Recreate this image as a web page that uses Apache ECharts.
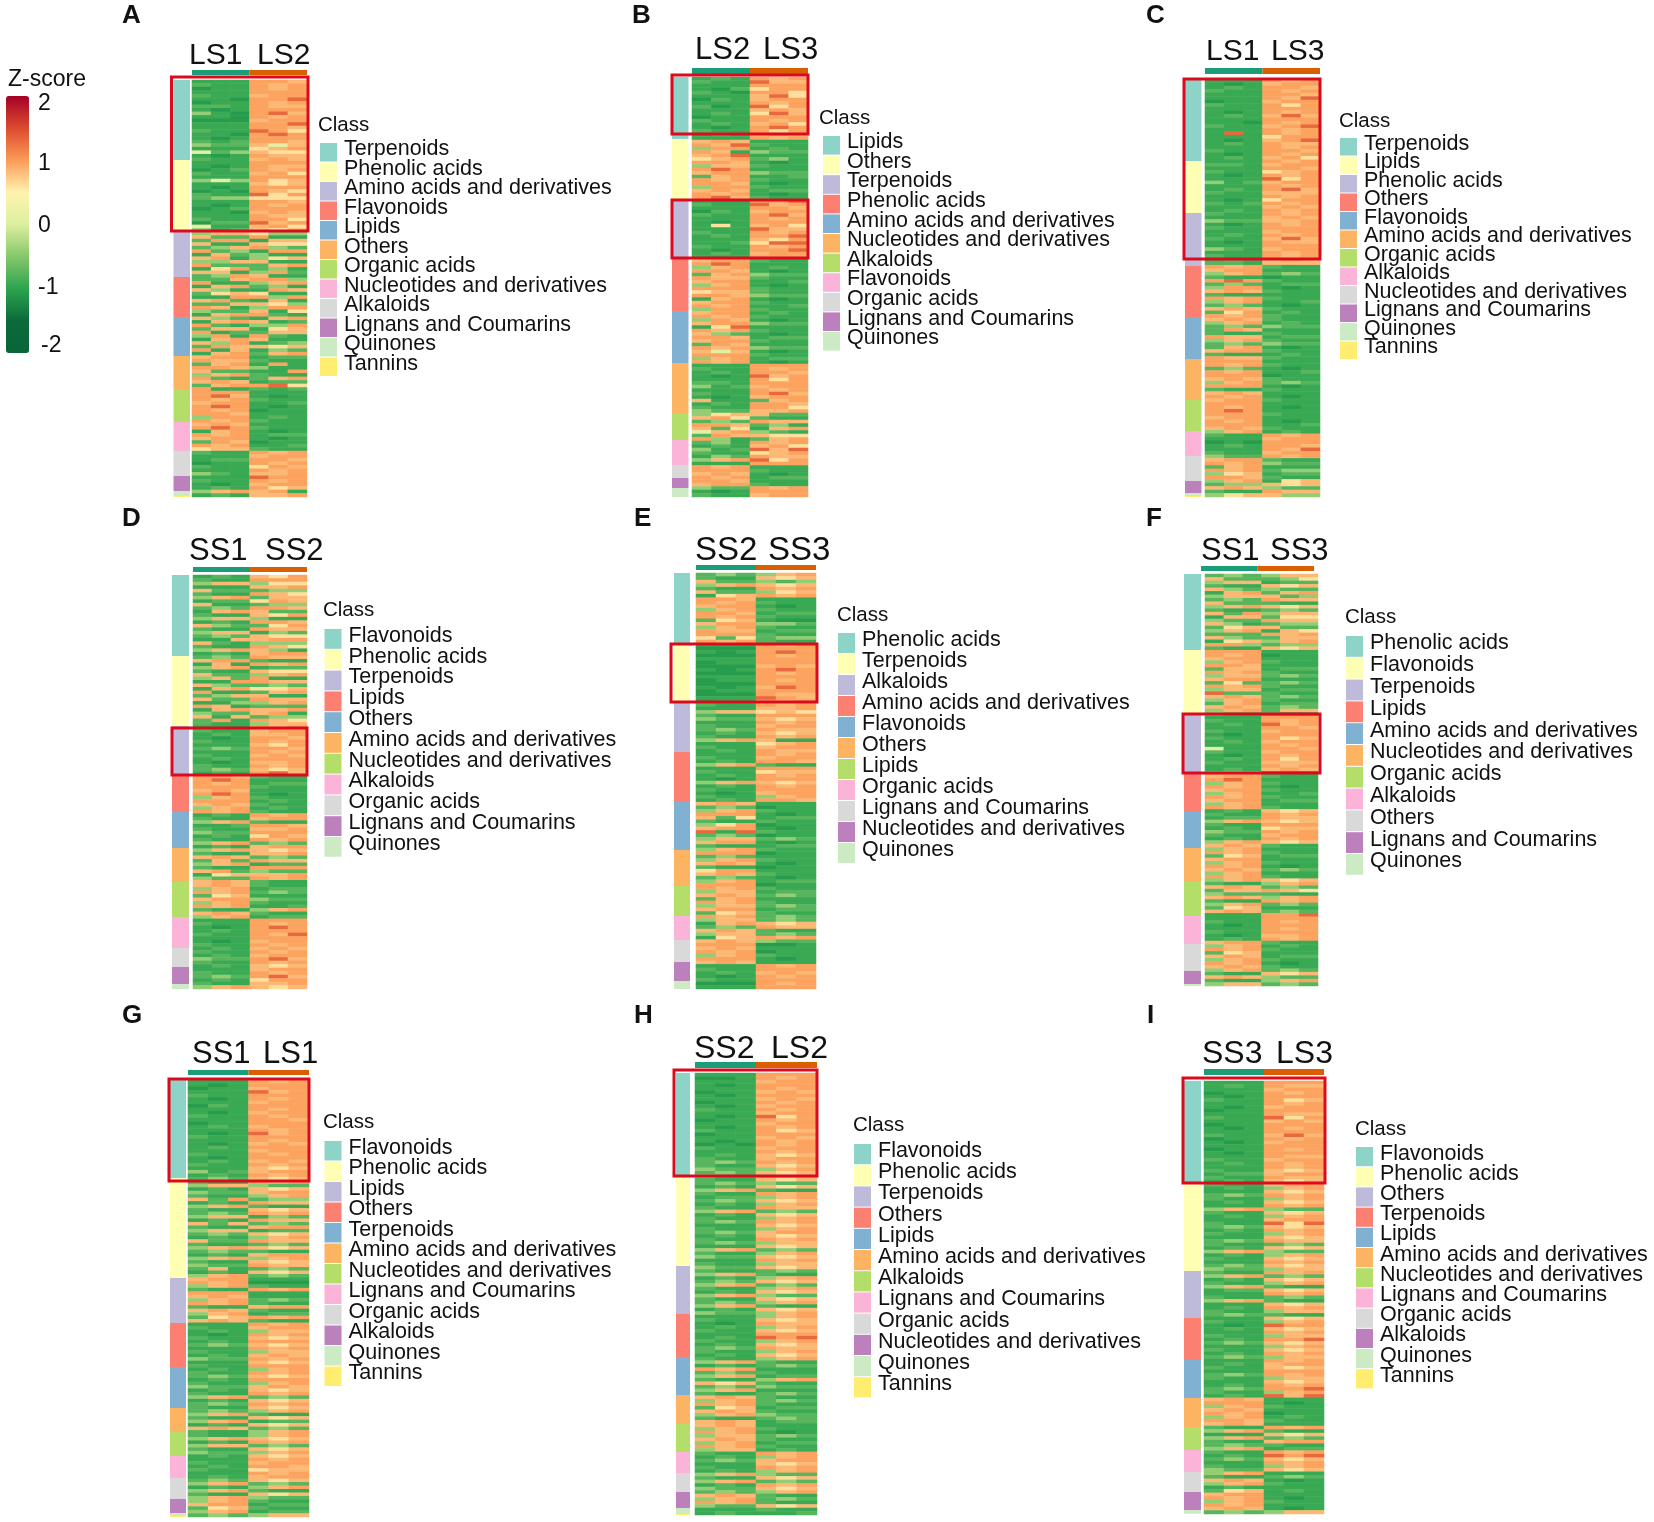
<!DOCTYPE html>
<html>
<head>
<meta charset="utf-8">
<script src="https://cdn.jsdelivr.net/npm/echarts@6/dist/echarts.min.js"></script>
<style>
html,body{margin:0;padding:0;background:#fff;}
#main{width:1654px;height:1522px;}
</style>
</head>
<body>
<div id="main"></div>
<script>
// each row = six samples, digit is an index into levelValues
var levelValues = [-1.45,-1.12,-0.97,-0.8,-0.45,0.1,0.62,0.85,0.98,1.35];
var colorbarTicks = [-2,-1,0,1,2];
var classColors = ['#8DD3C7','#FFFFB3','#BEBADA','#FB8072','#80B1D3','#FDB462','#B3DE69','#FBB4D8','#D9D9D9','#BC80BD','#CCEBC5','#FFED6F'];
var groupColors = ['#1b9e77','#d95f02'];

var labelsA = ['LS1','LS2'];
var classesA = ['Terpenoids','Phenolic acids','Amino acids and derivatives','Flavonoids','Lipids','Others','Organic acids','Nucleotides and derivatives','Alkaloids','Lignans and Coumarins','Quinones','Tannins'];
var countsA = [80,70,47,40,39,34,32,29,25,15,5,1];
var rowsA = `222887 322878 122878 222888 322788 221889 122878 332877 212888 421897 221878 111788 222889 222887 322986 221898 212888 323887 433757 222678 534766 212877 322787
222888 212877 123878 322786 222888 454867 222767 212888 121876 322968 344666 222887 212878 123888 221787 222877 322886 133978 522786 423767
477644 733822 388277 722766 347843 834288 273422 782467 447722 833378 268342 772483 348722
337884 822478 278342 742287 367622 228848 783272 337764 872488 433726 278832
743278 278723 832448 377267 823377 482832 278722 748234 387767 827243 278378
788233 877322 378282 887422 733228 478322 832378 787233 378896 822323
888222 897212 878322 788223 898212 878122 887222 488232 878322
787222 898322 278212 878233 788212 387122 878223 677322
322878 222788 233887 122878 322687 222878 432778
222988 322878 212788 232867
478782 232778`;

var labelsB = ['LS2','LS3'];
var classesB = ['Lipids','Others','Terpenoids','Phenolic acids','Amino acids and derivatives','Nucleotides and derivatives','Alkaloids','Flavonoids','Organic acids','Lignans and Coumarins','Quinones'];
var countsB = [62,60,59,53,52,50,27,25,13,10,9];
var rowsB = `232878 322977 222888 213688 321886 222796 132788 222878 312968 222787 232697 122888 322878 232786 212898 322868 232787 222878
787222 879322 488232 872433 789222 678342 887212 477322 898222 788433 378223 878322 887212 488322 787233 878212 897322
222889 322978 222887 132788 322897 222878 212888 262786 222977 322878 232889 222768 223699 322878 212889 232788 222888
788322 898222 478232 887212 378433 877322 788223 478212 888322 677322 887433 278212 788322 878223 488322
788232 878322 487212 788433 269222 878322 743212 887233 788322 387222 878433 757212 888322 478233 878212
222888 322878 232887 212978 222868 332888 423788 222878 322897 212788 722378 232887 322886 433778
467733 786322 343877 887342 736278 578432 387766 842378
342878 232786 423979 322678 243877 478968 222888
878222 888322 787212 878233
887222 788322 433878
212888 322788`;

var labelsC = ['LS1','LS3'];
var classesC = ['Terpenoids','Lipids','Phenolic acids','Others','Flavonoids','Amino acids and derivatives','Organic acids','Alkaloids','Nucleotides and derivatives','Lignans and Coumarins','Quinones','Tannins'];
var countsC = [82,52,53,51,42,41,31,25,25,12,3,1];
var rowsC = `222878 212788 232887 322878 222887 222879 122788 322868 222888 212878 232797 222888 221878 322789 222878 292878 222688 212789 232877 222878 322887 212878 232786
222878 332788 222887 322678 212878 222968 423788 222878 232897 322777 222878 212688 323878 222787 232878
322878 222787 433778 212878 322888 222788 232878 322797 212877 222888 432788 222878 322878 232787 332777
878322 788222 478343 322122 898322 343233 488212 787322 322222 878322 478223 343212 787322 368232 878322
787322 478232 343433 387222 322322 877233 478322 343433 378212 788322 322232 877322
888222 878322 343212 878223 888122 787322 478343 888212 322322 787222 878212 788322
888222 878212 898222 888322 788222 878212 888223 787322 478232
322878 222788 121888 232887 222879 322788 433878
788322 878433 378222 878344 467233 887322 478267
344767 787433 322877
467744`;

var labelsD = ['SS1','SS2'];
var classesD = ['Flavonoids','Phenolic acids','Terpenoids','Lipids','Others','Amino acids and derivatives','Nucleotides and derivatives','Alkaloids','Organic acids','Lignans and Coumarins','Quinones'];
var countsD = [81,70,49,37,36,34,35,31,19,17,5];
var rowsD = `232768 322888 477466 222778 733344 322876 478377 233687 722344 343887 278733 322768 477422 232887 743368 322877 477243 343766 227788 732444 322876 478742 232788
343877 788322 272878 478233 322766 733478 473822 228877 743343 278667 822378 347722 733877 224478 872333 278778 433782 727344 382876 322477
222878 322788 232778 212887 322878 222768 343887 222878 322787 232888 212778 322878 343767 232897
887322 898222 878233 888322 787222 898212 478322 888232 787322 478232 878322
232878 322788 478322 223887 322778 433888 232687 322878 478343 232788
478767 322778 787343 373877 478233 322888 783433 267778 433878 787322
787322 478233 878343 367222 788433 478322 878223 322478 787322 478233
222888 322878 212898 232888 322879 222888 212788 322878 232787
322878 232788 433897 322878 232767
222788 322878 343897 232688 322778
478767`;

var labelsE = ['SS2','SS3'];
var classesE = ['Phenolic acids','Terpenoids','Alkaloids','Amino acids and derivatives','Flavonoids','Others','Lipids','Organic acids','Lignans and Coumarins','Nucleotides and derivatives','Quinones'];
var countsE = [70,59,50,50,48,36,30,24,22,19,8];
var rowsE = `343478 322767 733434 478767 322878 733467 267878 887222 878322 788212 478322 887233 878322 367211 788443 478322 877233 888322 636344 878322
222878 111888 212898 111878 222888 122888 111787 212898 111878 222888 122878 111888 212798 122888 111877 222987 122878
322878 222778 477676 322888 433767 222878 322788 343877 232767 322878 478722 222678 322788 232877
222878 322788 232887 478322 222888 322677 232878 212888 478767 232878 322888 212788 322478 232887
787222 343122 478322 888212 736233 322322 468122 788212 929322 343122 477343 788212 322233 478322
888122 343222 478322 787212 322122 688222 787322 343212 478233 888122
878322 477233 787343 378222 878322 477343 788233 367322 878343
477343 278767 343877 787322 477343 267878 787433
888112 787222 878122 478322 888212 787222
222878 322888 232787 212878 322888
111878 222888`;

var labelsF = ['SS1','SS3'];
var classesF = ['Phenolic acids','Flavonoids','Terpenoids','Lipids','Amino acids and derivatives','Nucleotides and derivatives','Organic acids','Alkaloids','Others','Lignans and Coumarins','Quinones'];
var countsF = [76,65,57,40,36,34,34,28,27,13,2];
var rowsF = `343477 733346 477233 322767 743433 278378 477734 343877 733322 478767 322343 738477 277366 433877 742344 367733 478276 333878 743377 267478 884344 322767
888222 878122 788222 478322 887222 377233 878322 477343 788222 363343 878322 477233 933322 787343 478322 378233 787343 478377 433322
222888 322878 232978 222887 322788 212888 322867 232788 222878 522887 322788 212878 232868 322777 222878 232787
878222 788322 898222 478322 878212 788322 478223 878322 788233 478222 878322
232767 322878 233877 478767 322888 232677 433878 322788 232878 478767
787322 478222 878322 367233 788222 478322 878212 787343 478222 878322
478767 322478 787343 377876 433322 787478 322878 478343 367222 787343
222889 222888 322878 212888 222878 322888 212778 232878
788322 478232 878322 367222 787233 478322 878212 787322
478343 322767 787433 322478
477343`;

var labelsG = ['SS1','LS1'];
var classesG = ['Flavonoids','Phenolic acids','Lipids','Others','Terpenoids','Amino acids and derivatives','Nucleotides and derivatives','Lignans and Coumarins','Organic acids','Alkaloids','Quinones','Tannins'];
var countsG = [98,100,45,44,41,24,24,22,21,14,3,1];
var rowsG = `222878 212888 122788 222978 322888 212878 222788 132888 222878 212788 322878 222887 122888 232788 222878 212978 322888 222878 212787 232888 222788 322878 212888 232787 322878 222767 423788 232878
343767 322878 477433 232767 433788 322478 738344 232877 478322 322767 343878 477243 232877 737343 322788 477233 343767 232478 733877 322343 478767 343322 232788 478478 322767 433877 372343 232767 478343
788222 878111 478322 322878 888222 787222 478343 878322 322788 787322 478233 367878 787322
222878 322788 232477 212878 322767 232888 343767 222878 322477 232787 433878 222767 322888
232478 322878 343767 232888 322478 433787 232767 322878 478343 232767 343878 322767
343478 478322 322767 478233 232767 787343 322478
322478 478767 232878 477343 322767 433478 232767
222878 322788 232887 322677 222878 232788
343767 478343 232478 478322 322767 478433
478322 788233 367322 478233
343477`;

var labelsH = ['SS2','LS2'];
var classesH = ['Flavonoids','Phenolic acids','Terpenoids','Others','Lipids','Amino acids and derivatives','Alkaloids','Lignans and Coumarins','Organic acids','Nucleotides and derivatives','Quinones','Tannins'];
var countsH = [102,91,48,43,38,29,28,21,19,16,6,1];
var rowsH = `222888 112878 222788 212888 222878 122787 212888 222787 122878 212788 322878 222788 212968 122878 222788 212878 322867 122888 222787 212878 121878 322788 222878 232767 322788 343878 322767 433478 343767
433478 322767 343433 232767 478322 322878 233478 343767 232478 322877 478343 232767 322478 343878 222767 322478 343788 232767 322878 343477 222767 478343 322478 433767 222878 322477
433767 322343 478322 232478 343767 478343 322478 232767 478433 322767 343478 478322 232767 433478
222478 322767 212877 232478 322767 222888 232989 322478 232767 343877 322478 232767
322478 478322 232343 878222 343322 478233 322478 767322 343433 478222 322343
787322 478343 878322 367233 787322 478433 322343 787233
787222 478322 878212 477343 787322 478233 878322 477232
322878 232478 343788 222767 322878 232478
478433 322767 478343 232878 433767
343478 787322 478343 878322 433767
222322 232223`;

var labelsI = ['SS3','LS3'];
var classesI = ['Flavonoids','Phenolic acids','Others','Terpenoids','Lipids','Amino acids and derivatives','Nucleotides and derivatives','Lignans and Coumarins','Organic acids','Alkaloids','Quinones','Tannins'];
var countsI = [102,88,47,42,38,29,23,22,20,18,3,1];
var rowsI = `222888 232877 222788 122878 212888 322867 222878 212788 122888 222877 322968 222787 122888 212878 222888 322797 122878 212788 222888 122878 212888 222877 322788 232878 222878 322767 233788 322877 232767
322788 232478 222767 343878 322478 232767 222878 478433 322767 232478 222788 322969 343767 232878 322478 222767 343877 322343 232767 478433 232478 322767 222878 343767 433477
322878 478343 232767 322478 478322 233767 222878 322343 478322 222767 232878 322477 343322
222767 322478 212988 232767 222878 322477 232889 343767 222478 322767 232878 343477
222878 232788 322767 222888 343878 322477 222767 232878 343889 322478 232979
787222 888212 478322 787222 878122 478232 887322 787222
322878 478322 222767 478343 322788 343322 478233
322878 232989 343767 222878 322478 433767
478222 322343 787212 478322 232222 367232
788222 878212 478322 878222 787212
343477`;

// pixel layout of the nine panels
var layout = [
 {letter:'A',at:[122,16],size:30,lab:[[189,56],[257,56]],heat:[192,307,80,497],anno:[173.5,190],strip:[192,307,70,75],boxes:[[171.5,308,77,231]],cls:[318,125],leg:[320,143,19.5],labels:labelsA,classes:classesA,counts:countsA,rows:rowsA},
 {letter:'B',at:[632,16],size:31,lab:[[695,50],[763,50]],heat:[692,808,77,497],anno:[672,688.5],strip:[692,808,68,74],boxes:[[672,808,75,134],[672,808,200,258]],cls:[819,118],leg:[823,136,19.6],labels:labelsB,classes:classesB,counts:countsB,rows:rowsB},
 {letter:'C',at:[1146,16],size:30,lab:[[1206,52],[1271,52]],heat:[1205,1320,79,497],anno:[1185,1201.5],strip:[1205,1320,68,74],boxes:[[1184,1320,79,259]],cls:[1339,121],leg:[1340,138,18.5],labels:labelsC,classes:classesC,counts:countsC,rows:rowsC},
 {letter:'D',at:[122,519],size:31,lab:[[189,551],[265,551]],heat:[193,307,575,989],anno:[172,189],strip:[193,307,567,572],boxes:[[172,307,728,775]],cls:[323,610],leg:[324.5,629,20.8],labels:labelsD,classes:classesD,counts:countsD,rows:rowsD},
 {letter:'E',at:[634,519],size:33,lab:[[695,551],[768,551]],heat:[696,816,573,989],anno:[674,690],strip:[696,816,565,570],boxes:[[671,817,644,702]],cls:[837,615],leg:[838,633,21],labels:labelsE,classes:classesE,counts:countsE,rows:rowsE},
 {letter:'F',at:[1146,519],size:31,lab:[[1201,551],[1270,551]],heat:[1205,1318,574,986],anno:[1184,1201],strip:[1201,1314,566,571],boxes:[[1183,1320,714,773]],cls:[1345,617],leg:[1346,636,21.8],labels:labelsF,classes:classesF,counts:countsF,rows:rowsF},
 {letter:'G',at:[122,1016],size:31,lab:[[192,1054],[263,1054]],heat:[188,309,1080,1517],anno:[170,186],strip:[188,309,1070,1075],boxes:[[169,309,1079,1181]],cls:[323,1122],leg:[324.5,1141,20.5],labels:labelsG,classes:classesG,counts:countsG,rows:rowsG},
 {letter:'H',at:[634,1016],size:32,lab:[[694,1049],[771,1049]],heat:[695,817,1073,1515],anno:[676,690],strip:[695,817,1062,1068],boxes:[[674,817,1070,1176]],cls:[853,1125],leg:[854,1144,21.2],labels:labelsH,classes:classesH,counts:countsH,rows:rowsH},
 {letter:'I',at:[1147,1016],size:32,lab:[[1202,1054],[1276,1054]],heat:[1204,1324,1081,1514],anno:[1184,1201],strip:[1204,1324,1069,1075],boxes:[[1183,1325,1078,1183]],cls:[1355,1129],leg:[1356,1147,20.2],labels:labelsI,classes:classesI,counts:countsI,rows:rowsI}
];

var FONT = '"Liberation Sans", Arial, sans-serif';
var LEGEND_ROW = 28; // height the legend gives a rich text row
var option = {
 animation:false, backgroundColor:'#fff',
 title:[], grid:[], xAxis:[], yAxis:[], series:[], legend:[], graphic:[],
 visualMap:{
  type:'continuous', min:-2.08, max:2.06, calculable:false, hoverLink:false, seriesIndex:[],
  left:6, top:96, itemWidth:23, itemHeight:257, padding:0, text:null,
  inRange:{color:['#0a6538','#0b6a3a','#2ca44f','#86c76c','#dcef9f','#fff3b0','#fb9b57','#dc4b2e','#a50026']}
 }
};

function addTitle(text,x,cy,size,bold){
 option.title.push({text:text,left:x,top:cy-size/2,padding:0,
  textStyle:{fontFamily:FONT,fontSize:size,lineHeight:size,color:'#111',fontWeight:bold?'bold':'normal'}});
}
function addGrid(x0,x1,y0,y1,xAxis,yAxis){
 var i = option.grid.length;
 option.grid.push({left:x0,top:y0,width:x1-x0,height:y1-y0,containLabel:false});
 xAxis.gridIndex = i; yAxis.gridIndex = i;
 option.xAxis.push(xAxis); option.yAxis.push(yAxis);
 return i;
}

addTitle('Z-score',8,80,23,false);

layout.forEach(function(p){
 addTitle(p.letter,p.at[0],p.at[1],26,true);
 addTitle(p.labels[0],p.lab[0][0],p.lab[0][1],p.size,false);
 addTitle(p.labels[1],p.lab[1][0],p.lab[1][1],p.size,false);
 addTitle('Class',p.cls[0],p.cls[1],20.5,false);

 // heat map cells
 var rows = p.rows.trim().split(/\s+/);
 var cells = [];
 rows.forEach(function(r,ri){
  for(var c=0;c<6;c++){ cells.push([c,ri,levelValues[+r[c]]]); }
 });
 var hg = addGrid(p.heat[0],p.heat[1],p.heat[2],p.heat[3],
  {type:'category',show:false,data:[0,1,2,3,4,5]},
  {type:'category',show:false,inverse:true,data:rows.map(function(r,i){return i;})});
 option.visualMap.seriesIndex.push(option.series.length);
 option.series.push({type:'heatmap',xAxisIndex:hg,yAxisIndex:hg,data:cells,progressive:0,silent:true});

 // group strip on top
 var sg = addGrid(p.strip[0],p.strip[1],p.strip[2],p.strip[3],
  {type:'category',show:false,data:p.labels},
  {type:'value',show:false,min:0,max:1});
 option.series.push({type:'bar',xAxisIndex:sg,yAxisIndex:sg,barWidth:'100%',silent:true,
  data:[{value:1,itemStyle:{color:groupColors[0]}},{value:1,itemStyle:{color:groupColors[1]}}]});

 // class annotation column
 var total = p.counts.reduce(function(a,b){return a+b;},0);
 var ag = addGrid(p.anno[0],p.anno[1],p.heat[2],p.heat[3],
  {type:'category',show:false,data:['Class']},
  {type:'value',show:false,inverse:true,min:0,max:total});
 p.classes.forEach(function(name,i){
  option.series.push({type:'bar',name:name,xAxisIndex:ag,yAxisIndex:ag,stack:'c'+p.letter,barWidth:'100%',silent:true,
   itemStyle:{color:classColors[i]},data:[p.counts[i]]});
 });

 var itemH = p.leg[2]-1;
 option.legend.push({
  left:p.leg[0],top:p.leg[1]-(LEGEND_ROW-itemH)/2,orient:'vertical',padding:0,
  itemGap:p.leg[2]-LEGEND_ROW,itemWidth:17,itemHeight:itemH,
  selectedMode:false,icon:'rect',formatter:'{t|{name}}',
  textStyle:{rich:{t:{fontFamily:FONT,fontSize:21.5,lineHeight:11,color:'#111',padding:[0,0,6,2]}}},
  data:p.classes.map(function(name,i){return {name:name,icon:'rect',itemStyle:{color:classColors[i]}};})
 });

 p.boxes.forEach(function(b){
  option.graphic.push({type:'rect',z:100,silent:true,
   shape:{x:b[0],y:b[2],width:b[1]-b[0],height:b[3]-b[2]},
   style:{fill:'none',stroke:'#dc0a1e',lineWidth:3}});
 });
});

// colour bar ticks and labels over the visualMap bar
var tickRich = {fontFamily:FONT,fontSize:23,color:'#111'};
addGrid(6,29,96,353,
 {type:'value',show:false,min:0,max:1},
 {type:'value',position:'right',min:-2.08,max:2.06,z:10,splitLine:{show:false},axisLine:{show:false},
  axisTick:{show:true,inside:true,length:6,customValues:colorbarTicks,lineStyle:{color:'#fff',width:2}},
  axisLabel:{show:true,customValues:colorbarTicks,margin:9,
   formatter:function(v){ return (v===2?'{a|':v===-2?'{c|':'{b|')+v+'}'; },
   rich:{
    a:Object.assign({padding:[8,0,0,0]},tickRich),
    b:Object.assign({padding:[4,0,0,0]},tickRich),
    c:Object.assign({padding:[0,0,4,3]},tickRich)
   }}});

var chart = echarts.init(document.getElementById('main'),null,{renderer:'canvas'});
chart.setOption(option);
</script>
</body>
</html>
